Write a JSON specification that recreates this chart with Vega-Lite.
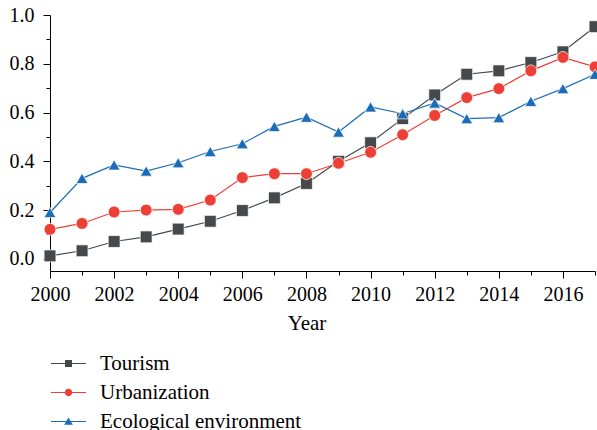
{
  "$schema": "https://vega.github.io/schema/vega-lite/v6.json",
  "width": 545,
  "height": 256,
  "autosize": {"type": "none"},
  "padding": {"left": 50, "top": 15, "right": 2, "bottom": 159},
  "config": {
    "font": "Liberation Serif",
    "view": {"stroke": null},
    "axis": {
      "grid": false,
      "domainColor": "#000",
      "tickColor": "#000",
      "labelColor": "#000",
      "titleColor": "#000",
      "labelFont": "Liberation Serif",
      "titleFont": "Liberation Serif",
      "labelFontSize": 20,
      "titleFontSize": 21,
      "titleFontWeight": "normal",
      "domainWidth": 1,
      "tickWidth": 1
    }
  },
  "data": {
    "values": [
      {"year": 2000, "series": "Tourism", "v": 0.012},
      {"year": 2001, "series": "Tourism", "v": 0.033},
      {"year": 2002, "series": "Tourism", "v": 0.071},
      {"year": 2003, "series": "Tourism", "v": 0.090},
      {"year": 2004, "series": "Tourism", "v": 0.122},
      {"year": 2005, "series": "Tourism", "v": 0.154},
      {"year": 2006, "series": "Tourism", "v": 0.198},
      {"year": 2007, "series": "Tourism", "v": 0.250},
      {"year": 2008, "series": "Tourism", "v": 0.309},
      {"year": 2009, "series": "Tourism", "v": 0.400},
      {"year": 2010, "series": "Tourism", "v": 0.476},
      {"year": 2011, "series": "Tourism", "v": 0.575},
      {"year": 2012, "series": "Tourism", "v": 0.672},
      {"year": 2013, "series": "Tourism", "v": 0.757},
      {"year": 2014, "series": "Tourism", "v": 0.771},
      {"year": 2015, "series": "Tourism", "v": 0.805},
      {"year": 2016, "series": "Tourism", "v": 0.849},
      {"year": 2017, "series": "Tourism", "v": 0.952},
      {"year": 2000, "series": "Urbanization", "v": 0.121},
      {"year": 2001, "series": "Urbanization", "v": 0.145},
      {"year": 2002, "series": "Urbanization", "v": 0.192},
      {"year": 2003, "series": "Urbanization", "v": 0.200},
      {"year": 2004, "series": "Urbanization", "v": 0.203},
      {"year": 2005, "series": "Urbanization", "v": 0.241},
      {"year": 2006, "series": "Urbanization", "v": 0.333},
      {"year": 2007, "series": "Urbanization", "v": 0.349},
      {"year": 2008, "series": "Urbanization", "v": 0.349},
      {"year": 2009, "series": "Urbanization", "v": 0.392},
      {"year": 2010, "series": "Urbanization", "v": 0.437},
      {"year": 2011, "series": "Urbanization", "v": 0.509},
      {"year": 2012, "series": "Urbanization", "v": 0.588},
      {"year": 2013, "series": "Urbanization", "v": 0.661},
      {"year": 2014, "series": "Urbanization", "v": 0.698},
      {"year": 2015, "series": "Urbanization", "v": 0.771},
      {"year": 2016, "series": "Urbanization", "v": 0.826},
      {"year": 2017, "series": "Urbanization", "v": 0.787},
      {"year": 2000, "series": "Ecological environment", "v": 0.190},
      {"year": 2001, "series": "Ecological environment", "v": 0.330},
      {"year": 2002, "series": "Ecological environment", "v": 0.385},
      {"year": 2003, "series": "Ecological environment", "v": 0.360},
      {"year": 2004, "series": "Ecological environment", "v": 0.394},
      {"year": 2005, "series": "Ecological environment", "v": 0.440},
      {"year": 2006, "series": "Ecological environment", "v": 0.472},
      {"year": 2007, "series": "Ecological environment", "v": 0.543},
      {"year": 2008, "series": "Ecological environment", "v": 0.581},
      {"year": 2009, "series": "Ecological environment", "v": 0.520},
      {"year": 2010, "series": "Ecological environment", "v": 0.623},
      {"year": 2011, "series": "Ecological environment", "v": 0.595},
      {"year": 2012, "series": "Ecological environment", "v": 0.639},
      {"year": 2013, "series": "Ecological environment", "v": 0.575},
      {"year": 2014, "series": "Ecological environment", "v": 0.579},
      {"year": 2015, "series": "Ecological environment", "v": 0.646},
      {"year": 2016, "series": "Ecological environment", "v": 0.698},
      {"year": 2017, "series": "Ecological environment", "v": 0.757}
    ]
  },
  "encoding": {
    "x": {
      "field": "year",
      "type": "quantitative",
      "scale": {"domain": [2000, 2017], "nice": false, "zero": false},
      "axis": {
        "title": "Year",
        "values": [2000, 2001, 2002, 2003, 2004, 2005, 2006, 2007, 2008, 2009, 2010, 2011, 2012, 2013, 2014, 2015, 2016, 2017],
        "format": "d",
        "labelExpr": "datum.value % 2 == 0 ? datum.label : ''",
        "tickSize": {"condition": {"test": "datum.value % 2 == 0", "value": 7}, "value": 4},
        "labelPadding": 6,
        "titlePadding": 8,
        "titleX": 256.5,
        "labelFlush": false,
        "labelOverlap": false
      }
    },
    "y": {
      "field": "v",
      "type": "quantitative",
      "scale": {"domain": [-0.05, 1.0], "nice": false, "zero": false},
      "axis": {
        "title": null,
        "values": [0, 0.1, 0.2, 0.3, 0.4, 0.5, 0.6, 0.7, 0.8, 0.9, 1.0],
        "format": ".1f",
        "labelExpr": "round(datum.value * 10) % 2 == 0 ? datum.label : ''",
        "tickSize": {"condition": {"test": "round(datum.value * 10) % 2 == 0", "value": 7}, "value": 4},
        "labelPadding": 9,
        "labelFlush": false,
        "labelOverlap": false
      }
    }
  },
  "layer": [
    {
      "mark": {"type": "line", "strokeWidth": 1.2},
      "encoding": {
        "color": {
          "field": "series",
          "type": "nominal",
          "scale": {
            "domain": ["Tourism", "Urbanization", "Ecological environment"],
            "range": ["#45494b", "#ee3f36", "#1a6cb9"]
          },
          "legend": null
        }
      }
    },
    {
      "mark": {"type": "point", "filled": true, "opacity": 1, "stroke": "white", "strokeWidth": 0.7, "size": 140},
      "encoding": {
        "color": {
          "field": "series",
          "type": "nominal",
          "legend": null
        },
        "shape": {
          "field": "series",
          "type": "nominal",
          "scale": {
            "domain": ["Tourism", "Urbanization", "Ecological environment"],
            "range": ["square", "circle", "triangle-up"]
          },
          "legend": null
        }
      }
    },
    {
      "mark": {"type": "point", "filled": true, "opacity": 0},
      "encoding": {
        "color": {
          "field": "series",
          "type": "nominal",
          "legend": {
            "title": null,
            "orient": "none",
            "legendX": 0,
            "legendY": 330,
            "direction": "vertical",
            "labelFont": "Liberation Serif",
            "labelFontSize": 21,
            "labelColor": "#000",
            "labelLimit": 0,
            "symbolSize": 1225,
            "symbolOpacity": 1,
            "labelOffset": 13,
            "rowPadding": -9,
            "encoding": {
              "symbols": {
                "fill": {"value": {"expr": "datum.value == 'Tourism' ? '#45494b' : (datum.value == 'Urbanization' ? '#ee3f36' : '#1a6cb9')"}}
              }
            }
          }
        },
        "shape": {
          "field": "series",
          "type": "nominal",
          "scale": {
            "domain": ["Tourism", "Urbanization", "Ecological environment"],
            "range": [
              "M-1,-0.03H1V0.03H-1ZM-0.2,-0.2H0.2V0.2H-0.2Z",
              "M-1,-0.03H1V0.03H-1ZM0.21,0A0.21,0.21 0 1,1 -0.21,0A0.21,0.21 0 1,1 0.21,0Z",
              "M-1,-0.03H1V0.03H-1ZM0,-0.23L0.25,0.18H-0.25Z"
            ]
          },
          "legend": {
            "title": null,
            "orient": "none",
            "legendX": 0,
            "legendY": 330,
            "direction": "vertical",
            "labelFont": "Liberation Serif",
            "labelFontSize": 21,
            "labelColor": "#000",
            "labelLimit": 0,
            "symbolSize": 1225,
            "symbolOpacity": 1,
            "labelOffset": 13,
            "rowPadding": -9,
            "encoding": {
              "symbols": {
                "fill": {"value": {"expr": "datum.value == 'Tourism' ? '#45494b' : (datum.value == 'Urbanization' ? '#ee3f36' : '#1a6cb9')"}}
              }
            }
          }
        }
      }
    }
  ],
  "resolve": {"scale": {"shape": "independent"}}
}
